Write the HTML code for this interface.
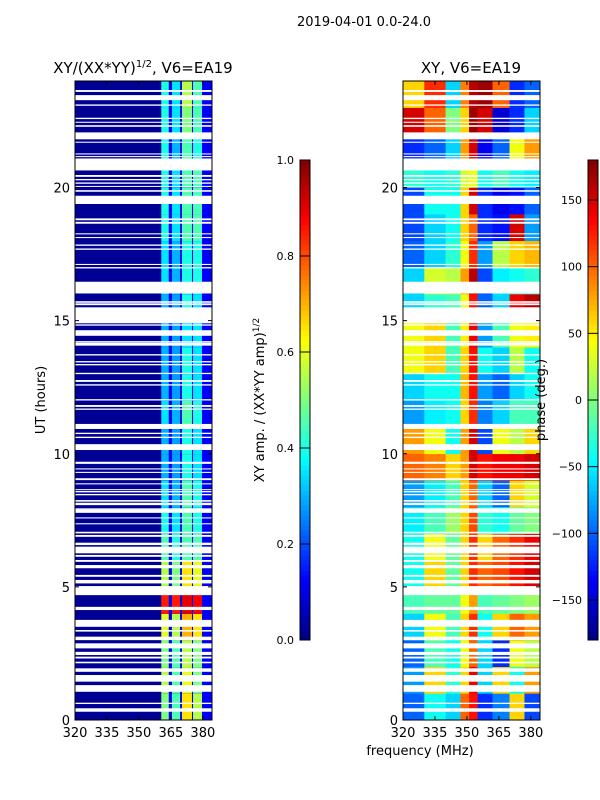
<!DOCTYPE html>
<html><head><meta charset="utf-8"><style>
html,body{margin:0;padding:0;background:#fff;}
svg{display:block;font-family:"DejaVu Sans","Liberation Sans",sans-serif;}
</style></head><body>
<svg id="fig" width="600" height="800" viewBox="0 0 600 800" xmlns="http://www.w3.org/2000/svg">
<text x="364" y="26" font-size="13" text-anchor="middle">2019-04-01 0.0-24.0</text>
<text x="143" y="73" font-size="15" text-anchor="middle">XY/(XX*YY)<tspan font-size="10" dy="-6">1/2</tspan><tspan dy="6">, V6=EA19</tspan></text>
<text x="471" y="73" font-size="15" text-anchor="middle">XY, V6=EA19</text>
<g id="left"></g>
<g id="right"></g>
<g id="axes"></g>
<text transform="translate(45,400) rotate(-90)" font-size="13" text-anchor="middle">UT (hours)</text>
<text transform="translate(264,400) rotate(-90)" font-size="13" text-anchor="middle">XY amp. / (XX*YY amp)<tspan font-size="9" dy="-5">1/2</tspan></text>
<text transform="translate(545,400) rotate(-90)" font-size="13" text-anchor="middle">phase (deg.)</text>
<text x="420" y="755" font-size="13" text-anchor="middle">frequency (MHz)</text>
</svg>
<script>
// ---- data ----
const xTicks = [320, 335, 350, 365, 380];
const yTicks = [0, 5, 10, 15, 20];
const ampTicks = [0.0, 0.2, 0.4, 0.6, 0.8, 1.0];
const phaseTicks = [-150, -100, -50, 0, 50, 100, 150];
// amplitude bands (MHz) and per-hour amplitudes for each band
const ampBands = [[360.5,364],[365.5,369.3],[370.2,374.9],[375.4,379.6]];
const ampBackground = 0.02;
const ampBetween = 0.12;
const ampValues = [
 [0.5,0.45,0.65,0.55],[0.55,0.45,0.6,0.5],[0.5,0.45,0.55,0.5],[0.6,0.55,0.7,0.65],
 [0.85,0.85,0.9,0.88],[0.55,0.5,0.65,0.6],[0.45,0.4,0.45,0.45],[0.4,0.35,0.45,0.4],
 [0.35,0.3,0.45,0.4],[0.3,0.28,0.4,0.35],[0.3,0.28,0.4,0.35],[0.35,0.3,0.45,0.4],
 [0.3,0.28,0.4,0.35],[0.3,0.28,0.4,0.35],[0.3,0.28,0.35,0.35],[0.3,0.28,0.4,0.35],
 [0.35,0.3,0.4,0.4],[0.35,0.3,0.4,0.4],[0.4,0.35,0.45,0.45],[0.4,0.35,0.45,0.45],
 [0.4,0.35,0.45,0.45],[0.4,0.3,0.45,0.4],[0.4,0.35,0.5,0.45],[0.4,0.35,0.55,0.45]
];
// phase zones (MHz edges) and per-hour phase (deg)
const phaseEdges = [320,330,340,347,351,355,362,370,377,384];
const phaseValues = [
 [-100,-40,-60,100,130,-120,-90,60,-110],
 [-80,60,-30,60,140,-60,60,-40,80],
 [-100,-20,-40,40,100,-60,-120,40,20],
 [-60,40,-20,60,120,-40,60,100,80],
 [-20,-10,-10,40,80,-20,-10,0,10],
 [-40,60,-10,60,120,100,110,130,150],
 [-40,40,-10,60,120,60,100,120,140],
 [-50,-20,10,60,110,-30,-40,-10,0],
 [-80,-50,-20,60,100,-60,-100,60,30],
 [100,90,60,80,150,130,140,140,150],
 [80,40,-40,80,150,-110,40,20,60],
 [-80,-50,-40,60,120,-90,-60,-20,-20],
 [-60,-40,-40,70,130,-80,-100,-60,-40],
 [40,60,-20,60,130,-40,-60,20,-40],
 [40,60,-20,50,140,-80,-20,40,50],
 [-60,-30,-20,40,130,-100,-60,140,160],
 [-60,30,20,80,160,-110,-50,-40,-30],
 [-100,-60,-30,40,120,-80,20,60,70],
 [-110,-60,-40,60,100,-120,-130,150,-80],
 [-110,-40,-40,60,150,-120,-140,-130,-100],
 [-30,-40,-30,30,40,-40,-20,-40,-50],
 [-120,-100,-60,80,150,-140,-100,40,80],
 [150,100,0,60,170,150,-150,-120,-60],
 [60,120,-60,90,160,170,100,-120,-100]
];
// flagged time ranges (hours)
const flagged = [
 [23.59,23.66],[23.28,23.47],[23.07,23.12],[22.57,22.62],[22.43,22.47],[22.28,22.34],[21.81,22.07],
 [21.68,21.72],[21.24,21.28],[21.14,21.18],[20.64,21.09],[20.40,20.47],[20.27,20.32],[20.14,20.19],
 [20.03,20.06],[19.84,19.90],[19.38,19.69],[18.77,18.84],[18.64,18.71],[18.24,18.28],[18.10,18.14],
 [17.81,17.86],[17.66,17.71],[17.09,17.13],[16.96,17.01],[16.02,16.46],[15.67,15.73],[15.58,15.65],
 [14.90,15.50],[14.81,14.86],[14.43,14.64],[14.18,14.23],[14.06,14.17],[13.69,13.74],[13.43,13.48],
 [13.32,13.37],[12.99,13.04],[12.70,12.77],[12.56,12.61],[12.00,12.05],[11.76,11.83],[11.65,11.70],
 [10.93,11.12],[10.74,10.79],[10.59,10.64],[10.14,10.36],[9.62,9.70],[9.41,9.45],[9.28,9.32],
 [9.01,9.08],[8.85,8.89],[8.64,8.67],[8.55,8.60],[8.44,8.49],[8.20,8.26],[8.07,8.16],[7.89,7.95],
 [7.78,7.89],[7.57,7.61],[7.35,7.39],[7.01,7.07],[6.88,6.95],[6.57,6.66],[6.26,6.51],[6.13,6.20],
 [5.94,6.01],[5.70,5.82],[5.38,5.45],[5.13,5.26],[4.69,5.03],[4.13,4.25],[3.50,3.76],[3.32,3.38],
 [3.00,3.13],[2.69,2.88],[2.44,2.56],[2.31,2.38],[2.13,2.19],[1.81,1.94],[1.44,1.69],[1.06,1.31],
 [0.60,0.65],[0.31,0.44]
];
// ---- geometry ----
const NS = "http://www.w3.org/2000/svg";
const fMin = 320, fMax = 384.3, tMin = 0, tMax = 24;
const PT = 81, PB = 720;
const panels = {left:{x0:75,x1:212}, right:{x0:403,x1:540}};
function xs(p, f){ return p.x0 + (f - fMin)/(fMax - fMin)*(p.x1 - p.x0); }
function ys(h){ return PB - (h - tMin)/(tMax - tMin)*(PB - PT); }
function jet(v){
  v = Math.max(0, Math.min(1, v));
  const c = x => Math.round(255*Math.max(0, Math.min(1, x)));
  return `rgb(${c(1.5-Math.abs(4*v-3))},${c(1.5-Math.abs(4*v-2))},${c(1.5-Math.abs(4*v-1))})`;
}
function mk(tag, attrs, parent){
  const e = document.createElementNS(NS, tag);
  for (const k in attrs) e.setAttribute(k, attrs[k]);
  parent.appendChild(e); return e;
}
const L = document.getElementById('left'), R = document.getElementById('right'), A = document.getElementById('axes');
// amplitude panel
ampValues.forEach((row, h) => {
  const y0 = ys(h+1), y1 = ys(h);
  let r = mk('rect', {x:xs(panels.left,fMin), y:y0, width:xs(panels.left,fMax)-xs(panels.left,fMin), height:y1-y0+0.3, fill:jet(ampBackground)}, L);
  
  
  r = mk('rect', {x:xs(panels.left,ampBands[0][0]), y:y0, width:xs(panels.left,fMax)-xs(panels.left,ampBands[0][0]), height:y1-y0+0.3, fill:jet(ampBetween)}, L);
  
  
  row.forEach((v, b) => {
    const c = mk('rect', {x:xs(panels.left,ampBands[b][0]), y:y0, width:xs(panels.left,ampBands[b][1])-xs(panels.left,ampBands[b][0]), height:y1-y0+0.3, fill:jet(v)}, L);
    
    
  });
});
// phase panel
phaseValues.forEach((row, h) => {
  const y0 = ys(h+1), y1 = ys(h);
  row.forEach((v, z) => {
    const c = mk('rect', {x:xs(panels.right,phaseEdges[z]), y:y0, width:xs(panels.right,phaseEdges[z+1])-xs(panels.right,phaseEdges[z])+0.3, height:y1-y0+0.3, fill:jet((v+180)/360)}, R);
    
    
  });
});
// flagged rows
[['left',L],['right',R]].forEach(([k,g]) => {
  const p = panels[k];
  flagged.forEach(([a,b]) => {
    const f = mk('rect', {x:p.x0, y:ys(b), width:p.x1-p.x0, height:Math.max(1, ys(a)-ys(b)), fill:'#fff'}, g);
    
    
  });
});
// axes frames and ticks
['left','right'].forEach(k => {
  const p = panels[k];
  const fr = mk('rect', {x:p.x0, y:PT, width:p.x1-p.x0, height:PB-PT, fill:'none', stroke:'#000', 'stroke-width':1}, A);
  
  
  xTicks.forEach(t => {
    const x = xs(p, t);
    mk('line', {x1:x, x2:x, y1:PB, y2:PB-4, stroke:'#000'}, A);
    mk('line', {x1:x, x2:x, y1:PT, y2:PT+4, stroke:'#000'}, A);
    const tx = mk('text', {x:x, y:PB+17, 'font-size':13, 'text-anchor':'middle'}, A);
    tx.textContent = t;
    
    
  });
  yTicks.forEach(t => {
    const y = ys(t);
    mk('line', {x1:p.x0, x2:p.x0+4, y1:y, y2:y, stroke:'#000'}, A);
    mk('line', {x1:p.x1, x2:p.x1-4, y1:y, y2:y, stroke:'#000'}, A);
    const tx = mk('text', {x:p.x0-5, y:y+5, 'font-size':13, 'text-anchor':'end'}, A);
    tx.textContent = t;
    
    
  });
});
// colorbars
function colorbar(x0, ticks, vmin, vmax, fmt, name){
  const top = 160, bot = 640, w = 10, n = 96;
  for (let i = 0; i < n; i++){
    const r = mk('rect', {x:x0, y:bot-(i+1)*(bot-top)/n, width:w, height:(bot-top)/n+0.5, fill:jet((i+0.5)/n)}, A);
    
    
  }
  const fr = mk('rect', {x:x0, y:top, width:w, height:bot-top, fill:'none', stroke:'#000'}, A);
  
  
  ticks.forEach(t => {
    const y = bot - (t-vmin)/(vmax-vmin)*(bot-top);
    mk('line', {x1:x0, x2:x0+w, y1:y, y2:y, stroke:'#000'}, A);
    const tx = mk('text', {x:x0-6, y:y+4, 'font-size':11, 'text-anchor':'end'}, A);
    tx.textContent = fmt(t);
    
    
  });
}
colorbar(300, ampTicks, 0, 1, t => t.toFixed(1), 'amp-colorbar');
colorbar(588, phaseTicks, -180, 180, t => (t<0?'\u2212'+(-t):''+t), 'phase-colorbar');
</script>
</body></html>
